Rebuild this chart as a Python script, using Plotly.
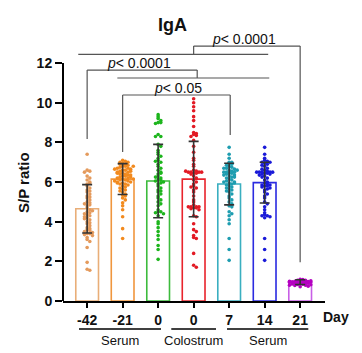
import plotly.graph_objects as go

# ---------------- data ----------------
day_labels = ["-42", "-21", "0", "0", "7", "14", "21"]
sample_groups = ["Serum", "Colostrum", "Serum"]
means = [4.65, 6.15, 6.05, 6.15, 5.90, 5.97, 0.95]
sds = [1.22, 0.78, 1.85, 1.90, 1.05, 1.03, 0.12]

pts_m42 = [7.4, 6.6, 6.55, 6.5, 6.3, 6.1, 6.0, 5.9, 5.8, 5.7, 5.6, 5.5, 5.4, 5.3, 5.25, 5.2,
           5.1, 5.0, 4.95, 4.9, 4.8, 4.7, 4.6, 4.5, 4.45, 4.4, 4.35, 4.3, 4.25, 4.2, 4.1, 4.0,
           3.95, 3.9, 3.8, 3.7, 3.6, 3.55, 3.5, 3.45, 3.4, 3.4, 3.35, 3.3, 3.2, 3.1, 3.0, 2.7,
           1.95, 1.6, 1.55, 4.55, 5.95, 4.15, 3.65, 5.55, 4.85, 6.2]
pts_m21 = [7.1, 7.05, 7.0, 7.0, 6.95, 6.9, 6.9, 6.85, 6.8, 6.8, 6.75, 6.7, 6.7, 6.65, 6.6, 6.6,
           6.55, 6.5, 6.5, 6.45, 6.4, 6.4, 6.35, 6.3, 6.3, 6.25, 6.2, 6.2, 6.15, 6.1, 6.1, 6.05,
           6.0, 6.0, 5.95, 5.9, 5.9, 5.85, 5.8, 5.75, 5.7, 5.65, 5.6, 5.55, 5.5, 5.4, 5.35, 5.3,
           5.2, 5.1, 4.95, 4.8, 4.6, 4.25, 3.65, 3.15, 6.65, 6.45, 6.25, 6.05, 6.8, 6.55, 6.35,
           6.15, 5.95]
pts_d0 = [9.4, 9.3, 9.2, 9.1, 9.0, 9.0, 8.95, 8.4, 8.3, 8.3, 7.9, 7.8, 7.6, 7.5, 7.4, 7.3, 7.2,
          7.1, 7.0, 6.9, 6.8, 6.7, 6.6, 6.5, 6.4, 6.3, 6.2, 6.15, 6.1, 6.05, 6.0, 5.9, 5.8, 5.7,
          5.6, 5.5, 5.4, 5.3, 5.2, 5.1, 5.0, 4.9, 4.8, 4.6, 4.5, 4.5, 4.45, 4.4, 4.3, 4.0, 3.9,
          3.7, 3.5, 3.3, 3.1, 2.8, 2.6, 2.1, 6.45, 5.95, 5.55, 6.25, 7.05]
pts_colo = [10.2, 10.0, 9.8, 9.6, 9.3, 9.1, 8.8, 8.5, 8.45, 8.4, 8.35, 8.3, 8.1, 7.8, 7.5, 7.2,
            7.1, 6.9, 6.8, 6.6, 6.55, 6.5, 6.5, 6.5, 6.5, 6.45, 6.45, 6.4, 6.3, 6.2, 6.1, 6.0,
            5.9, 5.8, 5.7, 5.6, 5.5, 5.3, 5.1, 5.0, 4.85, 4.75, 4.75, 4.75, 4.75, 4.7, 4.7, 4.65,
            4.6, 4.3, 4.25, 3.9, 3.6, 3.5, 3.3, 3.2, 3.15, 2.4, 1.8, 1.7, 6.55, 5.75]
pts_d7 = [7.75, 7.4, 7.2, 7.0, 7.0, 6.95, 6.9, 6.85, 6.8, 6.75, 6.7, 6.65, 6.6, 6.55, 6.5, 6.5,
          6.5, 6.45, 6.45, 6.4, 6.35, 6.3, 6.25, 6.2, 6.15, 6.1, 6.05, 6.0, 6.0, 5.95, 5.9, 5.85,
          5.8, 5.75, 5.7, 5.65, 5.6, 5.5, 5.4, 5.3, 5.2, 5.1, 5.0, 4.9, 4.8, 4.75, 4.5, 4.4, 4.3,
          4.1, 3.9, 3.15, 2.6, 2.05, 6.6, 6.35, 5.95, 6.25, 6.7, 5.55]
pts_d14 = [7.75, 7.4, 7.2, 7.1, 7.05, 7.0, 7.0, 6.95, 6.9, 6.85, 6.8, 6.7, 6.6, 6.55, 6.5, 6.5,
           6.5, 6.5, 6.5, 6.45, 6.45, 6.4, 6.4, 6.3, 6.2, 6.1, 6.0, 5.95, 5.9, 5.85, 5.85, 5.8,
           5.8, 5.75, 5.7, 5.6, 5.5, 5.4, 5.3, 5.2, 5.0, 4.9, 4.75, 4.6, 4.45, 4.35, 4.3, 4.3,
           4.25, 4.2, 3.15, 2.6, 2.05, 6.65, 6.35, 6.25, 5.65]
pts_d21 = [1.1, 1.08, 1.05, 1.05, 1.03, 1.02, 1.0, 1.0, 1.0, 0.98, 0.97, 0.96, 0.95, 0.95, 0.94,
           0.93, 0.92, 0.9, 0.9, 0.88, 0.87, 0.85, 0.83, 0.8, 0.78, 0.75, 0.72, 1.02, 0.99, 0.97,
           0.93, 0.91, 0.86, 0.82, 0.8]
points = [pts_m42, pts_m21, pts_d0, pts_colo, pts_d7, pts_d14, pts_d21]

# comparison brackets: (x_left, x_right, y_top, y_left_end, y_right_end, p, label, label_x, label_y)
brackets = [
    (3.0, 6.0, 12.86, 12.44, 1.95, "p", "< 0.0001", 4.42, 13.2),
    (0.0, 3.1, 11.65, 8.17, 11.25, "p", "< 0.0001", 1.46, 12.0),
    (1.0, 4.03, 10.39, 7.51, 8.37, "p", "< 0.05", 2.56, 10.75),
]
group_lines = [(-0.25, 5.10, 12.44), (0.85, 5.13, 11.25)]

# ---------------- style ----------------
bar_colors = ["#E9AE78", "#F0963E", "#3DBB3D", "#E8242C", "#3AAFC0", "#2B2BE0", "#C85FE6"]
pt_colors = ["#E49A5C", "#F28A1E", "#1DB51D", "#E21A24", "#1E9DB0", "#1A1AD8", "#B400C0"]
FONT = "Liberation Sans, Arial, sans-serif"
W, H = 362, 353
ML, MR, MT, MB = 63, 37, 30, 52
XR = [-0.68, 6.70]
YR = [0, 13.67]


def swarm(vals, bin_w=0.16, step=0.075, max_slot=4):
    counts, offs = {}, []
    n_slots = 2 * max_slot + 1
    for v in vals:
        b = round(v / bin_w)
        k = counts.get(b, 0) % n_slots
        counts[b] = counts.get(b, 0) + 1
        m = (k + 1) // 2
        offs.append(m * step * (1 if k % 2 else -1))
    return offs


def xpaper(xv):
    return (xv - XR[0]) / (XR[1] - XR[0])


def xpaper_px(px):
    return (px - ML) / (W - ML - MR)


def ypaper_px(py):
    return (H - MB - py) / (H - MT - MB)


fig = go.Figure()
idx = list(range(len(day_labels)))

fig.add_trace(go.Bar(
    x=idx, y=means, width=0.64,
    marker=dict(color="rgba(255,255,255,0)", line=dict(color=bar_colors, width=1.6)),
    showlegend=False, hoverinfo="skip"))

for i, vals in enumerate(points):
    offs = swarm(vals)
    fig.add_trace(go.Scatter(
        x=[i + o for o in offs], y=vals, mode="markers",
        marker=dict(size=3.6, color=pt_colors[i], line=dict(width=0)),
        showlegend=False, hoverinfo="skip"))

fig.add_trace(go.Scatter(
    x=idx, y=means, mode="markers", marker=dict(size=1, opacity=0),
    error_y=dict(type="data", array=sds, color="#333333", thickness=1.6, width=5),
    showlegend=False, hoverinfo="skip"))

shapes = []
lc = dict(color="#555555", width=1.2)
for (xl, xr, yt, yl, yrr, p, txt, lx, ly) in brackets:
    shapes.append(dict(type="line", xref="x", yref="y", x0=xl, x1=xr, y0=yt, y1=yt, line=lc))
    shapes.append(dict(type="line", xref="x", yref="y", x0=xl, x1=xl, y0=yt, y1=yl, line=lc))
    shapes.append(dict(type="line", xref="x", yref="y", x0=xr, x1=xr, y0=yt, y1=yrr, line=lc))
for (xl, xr, yv) in group_lines:
    shapes.append(dict(type="line", xref="x", yref="y", x0=xl, x1=xr, y0=yv, y1=yv, line=lc))

# y axis line (0 to 12 only)
shapes.append(dict(type="line", xref="paper", yref="y", x0=0, x1=0, y0=0, y1=12,
                   line=dict(color="black", width=2)))

# sample group underlines
grp_spans = [(-0.23, 2.08), (2.37, 3.63), (3.94, 6.23)]
for (a, b) in grp_spans:
    shapes.append(dict(type="line", xref="paper", yref="paper", x0=xpaper(a), x1=xpaper(b),
                       y0=ypaper_px(329), y1=ypaper_px(329), line=dict(color="black", width=1.6)))

annotations = []
ctr = dict(showarrow=False, xanchor="center", yanchor="middle")
for (xl, xr, yt, yl, yrr, p, txt, lx, ly) in brackets:
    annotations.append(dict(x=lx, y=ly, xref="x", yref="y",
                            text=f"<i>{p}</i>{txt.replace('<', '&lt;')}",
                            font=dict(family=FONT, size=14, color="#111"), **ctr))
for (a, b), g in zip(grp_spans, sample_groups):
    annotations.append(dict(x=xpaper((a + b) / 2), y=ypaper_px(340), xref="paper", yref="paper",
                            text=g, font=dict(family=FONT, size=13, color="#111"), **ctr))
annotations.append(dict(x=xpaper_px(336), y=ypaper_px(317), xref="paper", yref="paper",
                        text="<b>Day</b>", font=dict(family=FONT, size=14, color="#111"), **ctr))
annotations.append(dict(x=xpaper_px(172), y=ypaper_px(25), xref="paper", yref="paper",
                        text="<b>IgA</b>", font=dict(family=FONT, size=18, color="#111"), **ctr))
annotations.append(dict(x=xpaper_px(23), y=ypaper_px(183), xref="paper", yref="paper",
                        textangle=-90, text="<b>S/P ratio</b>",
                        font=dict(family=FONT, size=15, color="#111"), **ctr))

fig.update_layout(
    width=W, height=H, margin=dict(l=ML, r=MR, t=MT, b=MB),
    paper_bgcolor="white", plot_bgcolor="white",
    shapes=shapes, annotations=annotations, bargap=0.3,
    xaxis=dict(range=XR, showgrid=False, zeroline=False, showline=True, linecolor="black",
               linewidth=2, ticks="outside", ticklen=5, tickwidth=1.6, tickcolor="black",
               tickvals=idx, ticktext=day_labels,
               tickfont=dict(family=FONT, size=14, color="#111", weight="bold")),
    yaxis=dict(range=YR, showgrid=False, zeroline=False, showline=False,
               ticks="outside", ticklen=7, tickwidth=1.6, tickcolor="black",
               tickvals=[0, 2, 4, 6, 8, 10, 12],
               tickfont=dict(family=FONT, size=14, color="#111", weight="bold")),
)

fig.write_html("out.html")
